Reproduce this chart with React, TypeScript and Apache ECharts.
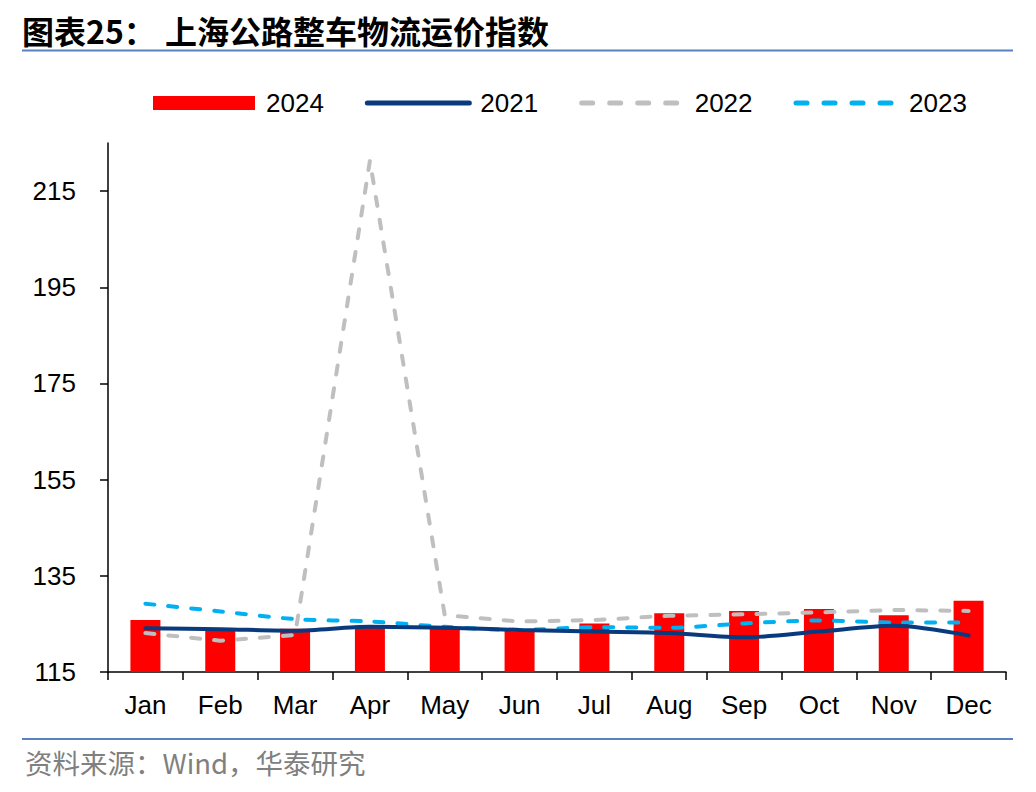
import React, { useEffect, useRef } from "react";
import * as echarts from "echarts";

const months = ["Jan", "Feb", "Mar", "Apr", "May", "Jun", "Jul", "Aug", "Sep", "Oct", "Nov", "Dec"];
const s2024 = [125.8, 124.0, 124.0, 124.6, 124.2, 123.9, 125.1, 127.2, 127.7, 128.1, 126.8, 129.8];
const s2021 = [124.1, 123.9, 123.6, 124.4, 124.2, 123.75, 123.4, 123.1, 122.2, 123.4, 124.6, 122.6];
const s2022 = [123.1, 121.5, 122.7, 221.3, 126.8, 125.5, 125.8, 126.7, 127.0, 127.4, 127.9, 127.7];
const s2023 = [129.2, 127.6, 126.0, 125.5, 124.4, 123.75, 124.3, 124.2, 125.1, 125.7, 125.3, 125.3];

const yMin = 115;
const yMax = 225;
const yStep = 20;

const titleLeft = "图表25：";
const titleRight = "上海公路整车物流运价指数";
const sourceText = "资料来源：Wind，华泰研究";

export default function App() {
  const ref = useRef<HTMLDivElement>(null);
  useEffect(() => {
    if (!ref.current) return;
    const chart = echarts.init(ref.current, null, { renderer: "svg" });
    const font = "'Liberation Sans', Arial, sans-serif";
    const cjk = "'Noto Sans CJK SC', 'Liberation Sans', sans-serif";
    const hiddenSymbol = { opacity: 0 };
    const chartDash = [9, 14];
    const legendDash = [11, 17];
    chart.setOption({
      animation: false,
      backgroundColor: "#ffffff",
      textStyle: { fontFamily: font },
      grid: { left: 108, right: 30, top: 143, bottom: 120, containLabel: false },
      legend: {
        left: 148,
        top: 85,
        itemWidth: 102,
        itemHeight: 14,
        itemGap: 41,
        textStyle: { fontSize: 26, color: "#000", fontFamily: font, padding: [0, 0, 0, 6] },
        data: [
          { name: "2024", icon: "rect" },
          { name: "2021", itemStyle: hiddenSymbol, lineStyle: { width: 5, cap: "round" } },
          { name: "2022", itemStyle: hiddenSymbol, lineStyle: { width: 5, type: legendDash, cap: "round" } },
          { name: "2023", itemStyle: hiddenSymbol, lineStyle: { width: 5, type: legendDash, cap: "round" } },
        ],
      },
      xAxis: {
        type: "category",
        data: months,
        boundaryGap: true,
        axisLine: { lineStyle: { color: "#000", width: 1.5 } },
        axisTick: { show: true, length: 8, inside: false, lineStyle: { color: "#000", width: 1.5 } },
        axisLabel: { fontSize: 26, color: "#000", margin: 20, fontFamily: font },
        splitLine: { show: false },
      },
      yAxis: {
        type: "value",
        min: yMin,
        max: yMax,
        interval: yStep,
        axisLine: { show: true, lineStyle: { color: "#000", width: 1.5 } },
        axisTick: { show: true, length: 8, lineStyle: { color: "#000", width: 1.5 } },
        axisLabel: { fontSize: 26, color: "#000", margin: 32, showMaxLabel: false, fontFamily: font },
        splitLine: { show: false },
      },
      series: [
        {
          name: "2024",
          type: "bar",
          data: s2024,
          barWidth: 30,
          itemStyle: { color: "#FF0000" },
          z: 1,
        },
        {
          name: "2021",
          type: "line",
          data: s2021,
          symbol: "none",
          smooth: 0.3,
          lineStyle: { color: "#0A3A7E", width: 4, cap: "round" },
          itemStyle: { color: "#0A3A7E" },
          z: 5,
        },
        {
          name: "2022",
          type: "line",
          data: s2022,
          symbol: "none",
          smooth: false,
          lineStyle: { color: "#BFBFBF", width: 4, type: chartDash, cap: "round" },
          itemStyle: { color: "#BFBFBF" },
          z: 3,
        },
        {
          name: "2023",
          type: "line",
          data: s2023,
          symbol: "none",
          smooth: 0.3,
          lineStyle: { color: "#00B0F0", width: 4, type: chartDash, cap: "round" },
          itemStyle: { color: "#00B0F0" },
          z: 4,
        },
      ],
      graphic: [
        {
          type: "text",
          left: 22,
          top: 14,
          style: { text: titleLeft, font: `bold 32px ${cjk}`, fill: "#000" },
        },
        {
          type: "text",
          left: 165,
          top: 14,
          style: { text: titleRight, font: `bold 32px ${cjk}`, fill: "#000" },
        },
        {
          type: "line",
          shape: { x1: 22, y1: 50.5, x2: 1013, y2: 50.5 },
          style: { stroke: "#5B82BD", lineWidth: 2 },
        },
        {
          type: "line",
          shape: { x1: 22, y1: 739, x2: 1013, y2: 739 },
          style: { stroke: "#5B82BD", lineWidth: 2 },
        },
        {
          type: "text",
          left: 25,
          top: 748,
          style: { text: sourceText, font: `27.5px ${cjk}`, fill: "#808080" },
        },
      ],
    });
    return () => chart.dispose();
  }, []);
  return (
    <div
      ref={ref}
      style={{ position: "absolute", left: 0, top: 0, width: 1036, height: 792 }}
    />
  );
}
